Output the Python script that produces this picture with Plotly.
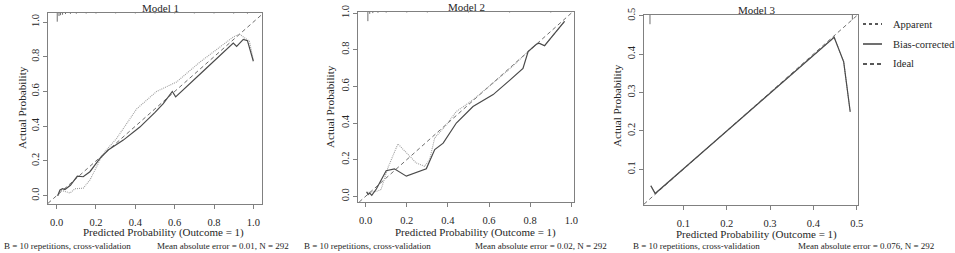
import plotly.graph_objects as go

W, H = 955, 253

# ---------------- data ----------------
# Model 1
m1_bc_x = [0.005, 0.017, 0.03, 0.042, 0.07, 0.105, 0.135, 0.169, 0.22, 0.262, 0.339, 0.423, 0.5, 0.542, 0.588, 0.605, 0.75, 0.898, 0.915, 0.949, 0.97, 1.0]
m1_bc_y = [0.0, 0.033, 0.04, 0.035, 0.06, 0.113, 0.109, 0.138, 0.215, 0.263, 0.32, 0.395, 0.48, 0.53, 0.6, 0.569, 0.722, 0.879, 0.86, 0.9, 0.893, 0.774]
m1_app_x = [0.005, 0.025, 0.04, 0.068, 0.093, 0.135, 0.169, 0.22, 0.25, 0.305, 0.407, 0.508, 0.61, 0.729, 0.898, 0.93, 0.96, 0.98, 1.0]
m1_app_y = [0.0, 0.03, 0.025, 0.015, 0.04, 0.043, 0.09, 0.205, 0.26, 0.33, 0.5, 0.6, 0.655, 0.77, 0.914, 0.93, 0.905, 0.89, 0.78]
m1_rug_x = [0.003, 0.012, 0.02, 0.03, 0.045, 0.07, 0.1, 0.15, 0.2, 0.3, 0.4, 0.5, 0.6, 0.7, 0.8, 0.9, 0.97]
m1_rug_f = [1.0, 0.35, 0.25, 0.2, 0.12, 0.1, 0.08, 0.06, 0.06, 0.05, 0.05, 0.05, 0.05, 0.05, 0.05, 0.06, 0.07]

# Model 2
m2_bc_x = [0.005, 0.012, 0.02, 0.03, 0.052, 0.1, 0.14, 0.198, 0.295, 0.336, 0.377, 0.441, 0.522, 0.62, 0.697, 0.765, 0.79, 0.83, 0.843, 0.87, 0.894, 0.967]
m2_bc_y = [0.025, 0.01, 0.018, 0.005, 0.04, 0.14, 0.15, 0.11, 0.15, 0.255, 0.29, 0.4, 0.49, 0.555, 0.63, 0.698, 0.79, 0.83, 0.836, 0.822, 0.855, 0.955]
m2_app_x = [0.005, 0.03, 0.052, 0.075, 0.108, 0.157, 0.198, 0.246, 0.287, 0.311, 0.336, 0.392, 0.441, 0.52, 0.6, 0.7, 0.79, 0.83, 0.843, 0.87, 0.894, 0.967]
m2_app_y = [0.02, 0.025, 0.027, 0.037, 0.155, 0.286, 0.237, 0.182, 0.164, 0.2, 0.319, 0.39, 0.463, 0.525, 0.6, 0.695, 0.79, 0.83, 0.836, 0.822, 0.855, 0.955]
m2_rug_x = [0.011, 0.02, 0.035, 0.06, 0.1, 0.2, 0.3, 0.5, 0.7, 0.9]
m2_rug_f = [1.0, 0.2, 0.12, 0.08, 0.06, 0.05, 0.05, 0.05, 0.05, 0.05]

# Model 3
m3_bc_x = [0.025, 0.035, 0.448, 0.47, 0.485]
m3_bc_y = [0.057, 0.037, 0.444, 0.38, 0.25]
m3_app_x = [0.025, 0.035, 0.448, 0.47, 0.485]
m3_app_y = [0.057, 0.037, 0.444, 0.38, 0.25]
m3_rug_x = [0.023, 0.49]
m3_rug_f = [1.0, 0.5]

titles = ["Model 1", "Model 2", "Model 3"]
mae = ["0.01", "0.02", "0.076"]
n_obs = 292
reps = 10
x_title = "Predicted Probability (Outcome = 1)"
y_title = "Actual Probability"
legend_labels = ["Apparent", "Bias-corrected", "Ideal"]

# ---------------- layout geometry (pixels) ----------------
panels = [
    dict(box=(48, 262, 13, 204), xr=[-0.044, 1.044], yr=[-0.048, 1.052],
         ticks=[0, 0.2, 0.4, 0.6, 0.8, 1.0], rug_len=0.05,
         data=(m1_bc_x, m1_bc_y, m1_app_x, m1_app_y, m1_rug_x, m1_rug_f),
         title_xy=(160, 8), xt=(163, 232), yt=(22, 108), bl=(3, 246), br=(290, 246)),
    dict(box=(358, 574, 12, 202), xr=[-0.037, 1.013], yr=[-0.031, 1.006],
         ticks=[0, 0.2, 0.4, 0.6, 0.8, 1.0], rug_len=0.05,
         data=(m2_bc_x, m2_bc_y, m2_app_x, m2_app_y, m2_rug_x, m2_rug_f),
         title_xy=(466, 7), xt=(475, 232), yt=(330, 107), bl=(303, 246), br=(608, 246)),
    dict(box=(644, 858, 15, 205), xr=[0.0092, 0.503], yr=[0.007, 0.502],
         ticks=[0.1, 0.2, 0.3, 0.4, 0.5], rug_len=0.024,
         data=(m3_bc_x, m3_bc_y, m3_app_x, m3_app_y, m3_rug_x, m3_rug_f),
         title_xy=(756, 10), xt=(756, 234), yt=(617, 106), bl=(632, 246), br=(935, 246)),
]

FONT = "Liberation Serif, Times New Roman, Times, serif"
TXT = "#262626"
AX = "#808080"

fig = go.Figure()
annotations = []
shapes = []


def ann(text, px, py, size, xanchor="center", angle=0):
    annotations.append(dict(text=text, x=px / W, y=1 - py / H, xref="paper", yref="paper",
                            showarrow=False, xanchor=xanchor, yanchor="middle", textangle=angle,
                            borderpad=0, font=dict(family=FONT, size=size, color=TXT)))


for i, p in enumerate(panels):
    k = "" if i == 0 else str(i + 1)
    xa, ya = "x" + k, "y" + k
    bc_x, bc_y, app_x, app_y, rug_x, rug_f = p["data"]
    hi = p["yr"][1]
    ilo = max(p["xr"][0], p["yr"][0])
    ihi = min(p["xr"][1], p["yr"][1])
    # ideal
    fig.add_trace(go.Scatter(x=[ilo, ihi], y=[ilo, ihi], mode="lines", xaxis=xa, yaxis=ya,
                             line=dict(color="#6e6e6e", width=1, dash="4px,3px"),
                             showlegend=False, name="Ideal", hoverinfo="skip"))
    # apparent (dotted, fine grain)
    fig.add_trace(go.Scatter(x=app_x, y=app_y, mode="lines", xaxis=xa, yaxis=ya,
                             line=dict(color="#a0a0a0", width=1.1, dash="1px,1px"),
                             showlegend=False, name="Apparent"))
    # bias-corrected
    fig.add_trace(go.Scatter(x=bc_x, y=bc_y, mode="lines", xaxis=xa, yaxis=ya,
                             line=dict(color="#4a4a4a", width=1.2),
                             showlegend=False, name="Bias-corrected"))
    # rug / histogram of predictions at top
    rx, ry = [], []
    for xv, fv in zip(rug_x, rug_f):
        rx += [xv, xv, None]
        ry += [hi, hi - fv * p["rug_len"], None]
    fig.add_trace(go.Scatter(x=rx, y=ry, mode="lines", xaxis=xa, yaxis=ya,
                             line=dict(color="#6e6e6e", width=1),
                             showlegend=False, hoverinfo="skip"))

    x0, x1, y0, y1 = p["box"]
    common = dict(showline=True, linecolor=AX, linewidth=1, mirror=True,
                  ticks="outside", ticklen=4, tickcolor=AX, tickwidth=1,
                  showgrid=False, zeroline=False, automargin=False,
                  tickfont=dict(family=FONT, size=10.5, color=TXT),
                  tickmode="array", tickvals=p["ticks"],
                  ticktext=["%.1f" % t for t in p["ticks"]])
    fig.update_layout(**{
        "xaxis" + k: dict(domain=[x0 / W, x1 / W], range=p["xr"], anchor=ya,
                          ticklabelstandoff=4, **common),
        "yaxis" + k: dict(domain=[1 - y1 / H, 1 - y0 / H], range=p["yr"], anchor=xa,
                          tickangle=-90, ticklabelstandoff=0, **common),
    })
    ann(titles[i], p["title_xy"][0], p["title_xy"][1], 11)
    ann(x_title, p["xt"][0], p["xt"][1], 11)
    ann(y_title, p["yt"][0], p["yt"][1], 11.2, angle=-90)
    ann("B = %d repetitions, cross-validation" % reps, p["bl"][0], p["bl"][1], 9, xanchor="left")
    ann("Mean absolute error = %s, N = %d" % (mae[i], n_obs), p["br"][0], p["br"][1], 9, xanchor="right")

# manual legend (R style) beside Model 3
leg_dash = ["dot", "solid", "4px,3px"]
leg_y = [24, 44, 64]
for lab, d, yy in zip(legend_labels, leg_dash, leg_y):
    shapes.append(dict(type="line", xref="paper", yref="paper",
                       x0=863 / W, x1=882 / W, y0=1 - yy / H, y1=1 - yy / H,
                       line=dict(color="#222222", width=1.3, dash=d)))
    ann(lab, 892, yy, 10.5, xanchor="left")

fig.update_layout(width=W, height=H, autosize=False,
                  margin=dict(l=0, r=0, t=0, b=0, pad=0),
                  paper_bgcolor="white", plot_bgcolor="white",
                  annotations=annotations, shapes=shapes, showlegend=False)

fig.write_html("out.html", config={"displayModeBar": False},
               post_script="document.body.style.margin='0';document.body.style.overflow='hidden';")
